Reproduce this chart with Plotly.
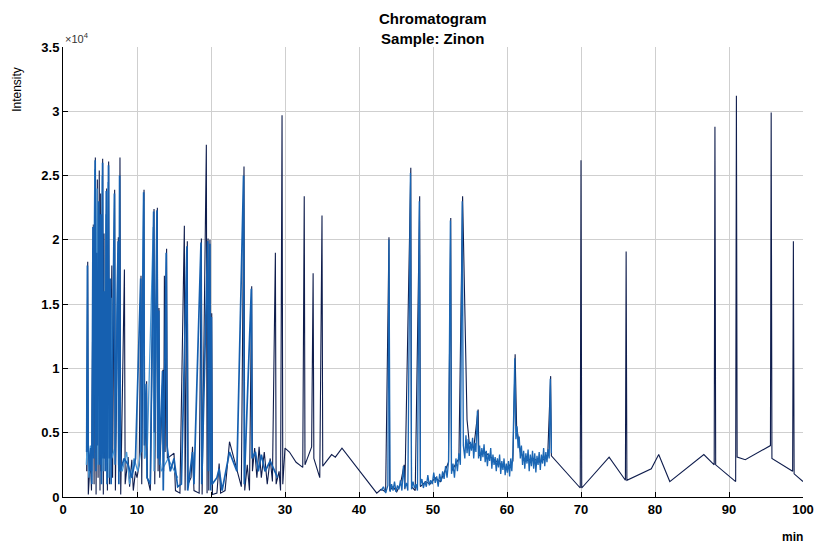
import plotly.graph_objects as go

# ---- data (intensity in units of 1e4) ----
navy_t = [3.2, 3.34, 3.42, 3.7, 3.85, 4.1, 4.2, 4.37, 4.47, 4.64, 4.74, 4.9, 5.0, 5.09, 5.18, 5.36, 5.45, 5.54, 5.64, 5.9,
          6.0, 6.17, 6.27, 6.6, 6.7, 6.98, 7.08, 7.48, 7.58, 7.7, 7.8, 8.3, 8.4, 8.8, 9.0, 9.3, 9.5, 9.8, 10.0, 10.3,
          10.54, 10.64, 10.95, 11.05, 11.3, 11.4, 11.8, 12.3, 12.4, 12.75, 12.85, 12.97, 13.07, 13.5, 13.6, 13.7, 13.8, 14.0, 14.1, 15.0,
          15.2, 15.8, 16.4, 16.5, 16.8, 16.9, 17.3, 17.5, 17.7, 18.4, 18.7, 18.8, 19.37, 19.47, 19.6, 19.7, 19.86, 19.95, 20.1, 20.2,
          20.8, 21.1, 21.3, 21.9, 22.5, 23.5, 24.1, 24.46, 24.56, 24.9, 25.2, 25.5, 25.6, 25.9, 26.2, 26.5, 26.8, 27.2, 27.6, 28.0,
          28.3, 28.7, 28.8, 29.2, 29.4, 29.6, 29.7, 30.0, 30.6, 31.5, 32.4, 32.6, 32.7, 33.6, 33.8, 33.9, 34.7, 35.0, 35.1, 36.3,
          36.8, 37.7, 42.4, 43.0, 43.6, 44.05, 44.15, 44.6, 45.1, 45.6, 46.1, 46.2, 47.0, 47.1, 47.6, 48.2, 48.3, 49.0, 49.6, 50.3,
          51.0, 51.6, 52.1, 52.4, 52.5, 53.0, 53.5, 54.0, 54.3, 54.6, 54.9, 55.5, 56.1, 56.2, 57.0, 58.0, 59.0, 60.0, 60.8, 61.1,
          61.3, 61.8, 62.5, 63.5, 64.5, 65.5, 65.9, 66.0, 69.9, 70.0, 70.1, 73.8, 76.0, 76.1, 76.2, 79.5, 80.5, 82.0, 86.6, 88.0,
          88.1, 88.2, 90.9, 91.0, 91.1, 92.2, 95.6, 95.7, 95.8, 97.8, 98.6, 98.7, 98.8, 100.0]
navy_y = [0.20, 1.83, 0.02, 0.30, 0.05, 2.12, 0.10, 2.64, 0.02, 2.47, 0.15, 2.54, 0.05, 2.36, 0.20, 2.63, 0.02, 2.05, 0.30, 2.40,
          0.05, 2.61, 0.10, 1.80, 0.15, 2.39, 0.05, 2.02, 0.20, 2.64, 0.02, 1.77, 0.10, 0.31, 0.08, 0.29, 0.05, 0.20, 0.15, 0.25,
          1.72, 0.10, 2.39, 0.30, 0.90, 0.15, 0.05, 2.24, 0.10, 2.25, 0.20, 1.47, 0.15, 0.99, 0.20, 1.72, 0.35, 1.93, 0.30, 0.34,
          0.05, 0.03, 2.11, 0.05, 1.99, 0.10, 0.15, 0.39, 0.05, 0.03, 2.01, 0.02, 2.74, 0.03, 2.01, 0.05, 2.00, 0.10, 1.43, 0.02,
          0.03, 0.26, 0.03, 0.05, 0.43, 0.22, 0.08, 2.57, 0.05, 0.25, 0.05, 1.64, 0.20, 0.38, 0.15, 0.39, 0.15, 0.35, 0.10, 0.30,
          0.12, 1.90, 0.10, 0.20, 0.05, 2.97, 0.10, 0.38, 0.35, 0.27, 0.23, 2.34, 0.25, 0.39, 1.74, 0.30, 0.15, 2.19, 0.24, 0.33,
          0.31, 0.38, 0.03, 0.06, 0.04, 2.02, 0.05, 0.08, 0.04, 0.10, 0.25, 0.06, 2.56, 0.08, 0.05, 2.34, 0.08, 0.12, 0.10, 0.15,
          0.12, 0.20, 0.27, 2.17, 0.20, 0.25, 0.30, 2.34, 1.40, 0.60, 0.42, 0.38, 0.68, 0.32, 0.35, 0.30, 0.26, 0.22, 0.28, 1.11,
          0.55, 0.35, 0.28, 0.30, 0.27, 0.32, 0.94, 0.32, 0.07, 2.62, 0.07, 0.31, 0.13, 1.91, 0.13, 0.22, 0.33, 0.12, 0.33, 0.25,
          2.88, 0.25, 0.12, 3.12, 0.31, 0.29, 0.40, 2.99, 0.30, 0.23, 0.20, 1.99, 0.18, 0.12]

blue_t = [3.2, 3.3, 3.4, 3.6, 3.75, 3.9, 4.05, 4.15, 4.35, 4.45, 4.55, 4.65, 4.85, 4.95, 5.1, 5.2, 5.35, 5.45, 5.6, 5.7,
          5.85, 5.95, 6.15, 6.25, 6.4, 6.5, 6.95, 7.05, 7.45, 7.55, 7.65, 7.75, 8.25, 8.8, 9.3, 9.8, 10.5, 10.6, 10.9, 11.0,
          11.25, 11.35, 11.8, 12.25, 12.35, 12.7, 12.8, 12.95, 13.05, 13.45, 13.55, 13.95, 14.05, 14.5, 15.0, 15.5, 16.0, 16.75, 16.85, 17.5,
          17.7, 18.65, 18.75, 19.55, 19.65, 19.85, 19.95, 20.05, 20.15, 20.8, 21.1, 21.5, 22.5, 23.5, 24.4, 24.5, 25.45, 25.55, 26.0, 26.4,
          26.8, 27.3, 28.0, 29.0]
blue_y = [0.35, 1.80, 0.40, 0.20, 0.38, 0.10, 2.10, 0.30, 2.62, 0.20, 1.90, 0.40, 2.30, 0.25, 2.20, 0.10, 2.60, 0.30, 1.60, 0.20,
          2.38, 0.10, 2.58, 0.30, 1.70, 0.10, 2.36, 0.25, 1.99, 0.10, 2.50, 0.20, 0.30, 0.25, 0.15, 0.30, 1.70, 0.35, 2.37, 0.40,
          0.88, 0.15, 0.10, 2.22, 0.50, 2.23, 0.30, 1.45, 0.25, 0.98, 0.05, 1.90, 0.40, 0.20, 0.30, 0.08, 0.10, 1.95, 0.05, 0.35,
          0.10, 1.98, 0.10, 1.99, 0.20, 1.97, 0.05, 1.40, 0.10, 0.15, 0.22, 0.05, 0.35, 0.20, 2.50, 0.10, 1.62, 0.30, 0.35, 0.20,
          0.33, 0.20, 0.28, 0.15]

light_t = [3.15, 3.3, 3.5, 3.7, 3.9, 4.3, 4.4, 4.6, 4.7, 5.0, 5.1, 5.3, 5.4, 5.8, 5.9, 6.1, 6.2, 6.5, 6.6, 7.0,
           7.4, 7.5, 8.0, 8.6, 9.0, 9.6, 10.1, 10.5, 10.9, 11.0, 11.4, 12.2, 12.3, 12.7, 12.8, 13.3, 14.2, 15.5]
light_y = [0.25, 0.45, 0.15, 0.40, 0.20, 2.55, 0.30, 2.40, 0.25, 1.95, 0.40, 2.50, 0.20, 2.20, 0.35, 2.45, 0.15, 1.55, 0.30, 0.38,
           1.90, 0.25, 0.20, 0.35, 0.10, 0.30, 0.20, 0.35, 2.30, 0.30, 0.40, 2.10, 0.20, 1.80, 0.45, 0.20, 0.30, 0.15]

noise_t = [43.0, 43.3, 43.6, 43.9, 44.05, 44.2, 44.4, 44.6, 44.8, 45.0, 45.2, 45.4, 45.6, 45.8, 46.0, 46.2, 46.4, 46.6, 46.95, 47.1,
           47.3, 47.5, 47.7, 47.9, 48.15, 48.3, 48.5, 48.7, 48.9, 49.1, 49.3, 49.5, 49.7, 49.9, 50.1, 50.3, 50.5, 50.7, 50.9, 51.1,
           51.3, 51.5, 51.7, 51.9, 52.1, 52.35, 52.5, 52.7, 52.9, 53.1, 53.3, 53.5, 53.7, 53.95, 54.1, 54.3, 54.45, 54.6, 54.75, 54.9,
           55.05, 55.2, 55.35, 55.5, 55.65, 55.8, 56.0, 56.15, 56.3, 56.45, 56.6, 56.75, 56.9, 57.05, 57.2, 57.35, 57.5, 57.65, 57.8, 57.95,
           58.1, 58.25, 58.4, 58.55, 58.7, 58.85, 59.0, 59.15, 59.3, 59.45, 59.6, 59.75, 59.9, 60.05, 60.2, 60.35, 60.5, 60.65, 60.8, 61.05,
           61.2, 61.35, 61.5, 61.65, 61.8, 61.95, 62.1, 62.25, 62.4, 62.55, 62.7, 62.85, 63.0, 63.15, 63.3, 63.45, 63.6, 63.75, 63.9, 64.05,
           64.2, 64.35, 64.5, 64.65, 64.8, 64.95, 65.1, 65.25, 65.4, 65.55, 65.7, 65.85, 66.0]
noise_y = [0.05, 0.08, 0.03, 0.09, 2.00, 0.04, 0.10, 0.05, 0.12, 0.04, 0.09, 0.06, 0.13, 0.05, 0.24, 0.07, 0.11, 0.05, 2.52, 0.06,
           0.12, 0.07, 0.10, 0.05, 2.30, 0.09, 0.14, 0.07, 0.12, 0.08, 0.17, 0.09, 0.13, 0.10, 0.19, 0.11, 0.16, 0.08, 0.18, 0.12,
           0.20, 0.14, 0.24, 0.15, 0.28, 2.15, 0.18, 0.26, 0.15, 0.30, 0.20, 0.34, 0.25, 2.30, 0.40, 0.30, 0.48, 0.34, 0.45, 0.32,
           0.43, 0.36, 0.46, 0.30, 0.42, 0.35, 0.67, 0.30, 0.40, 0.28, 0.38, 0.31, 0.41, 0.27, 0.36, 0.24, 0.34, 0.28, 0.38, 0.22,
           0.33, 0.25, 0.31, 0.20, 0.30, 0.23, 0.33, 0.18, 0.28, 0.21, 0.30, 0.17, 0.26, 0.19, 0.28, 0.16, 0.30, 0.20, 0.35, 1.08,
           0.45, 0.55, 0.38, 0.47, 0.30, 0.40, 0.25, 0.36, 0.22, 0.34, 0.26, 0.37, 0.20, 0.33, 0.24, 0.36, 0.22, 0.34, 0.19, 0.32,
           0.25, 0.35, 0.21, 0.33, 0.26, 0.38, 0.24, 0.35, 0.27, 0.37, 0.30, 0.92, 0.34]

x_ticks = [0, 10, 20, 30, 40, 50, 60, 70, 80, 90, 100]
y_ticks = [0, 0.5, 1, 1.5, 2, 2.5, 3, 3.5]
y_tick_text = ["0", "0.5", "1", "1.5", "2", "2.5", "3", "3.5"]

FONT = "Liberation Sans Narrow, Liberation Sans, Arial, sans-serif"

fig = go.Figure()
fig.add_trace(go.Scatter(x=navy_t, y=navy_y, mode="lines", line=dict(color="#0f1d4d", width=1.1), hoverinfo="skip"))
fig.add_trace(go.Scatter(x=light_t, y=light_y, mode="lines", line=dict(color="#4a98d6", width=1.3), hoverinfo="skip"))
fig.add_trace(go.Scatter(x=blue_t, y=blue_y, mode="lines", line=dict(color="#1660b0", width=1.7), hoverinfo="skip"))
fig.add_trace(go.Scatter(x=noise_t, y=noise_y, mode="lines", line=dict(color="#1a66b4", width=1.3), hoverinfo="skip"))

fig.update_layout(
    width=814, height=545,
    margin=dict(l=63, r=11, t=47, b=48, autoexpand=False),
    paper_bgcolor="white", plot_bgcolor="white",
    showlegend=False,
    font=dict(family=FONT, size=12, color="black"),
)
fig.update_xaxes(range=[0, 100], tickvals=x_ticks, ticks="inside", ticklen=5, tickcolor="black",
                 showgrid=True, gridcolor="#cfcfcf", gridwidth=1, showline=True, linecolor="black", linewidth=1,
                 zeroline=False, automargin=False, tickfont=dict(family=FONT, size=13, color="black", weight="bold"))
fig.update_yaxes(range=[0, 3.5], tickvals=y_ticks, ticktext=y_tick_text, ticks="inside", ticklen=5, tickcolor="black",
                 showgrid=True, gridcolor="#cfcfcf", gridwidth=1, showline=True, linecolor="black", linewidth=1,
                 zeroline=False, automargin=False, tickfont=dict(family=FONT, size=13, color="black", weight="bold"))

fig.add_annotation(text="<b>Chromatogram</b><br><b>Sample: Zinon</b>", xref="paper", yref="paper",
                   x=0.5, y=1.04, xanchor="center", yanchor="middle", showarrow=False,
                   font=dict(family=FONT, size=15, color="black"))
fig.add_annotation(text="Intensity", xref="paper", yref="paper", x=-0.062, y=0.905, textangle=-90,
                   showarrow=False, xanchor="center", yanchor="middle", font=dict(family=FONT, size=12, color="black"))
fig.add_annotation(text="×10<sup>4</sup>", xref="paper", yref="paper", x=0.0, y=1.0, xanchor="left", yanchor="bottom",
                   showarrow=False, font=dict(family=FONT, size=11, color="#333333"))
fig.add_annotation(text="<b>min</b>", xref="paper", yref="paper", x=0.986, y=-0.088, xanchor="center", yanchor="middle",
                   showarrow=False, font=dict(family=FONT, size=12, color="black"))

fig.write_html("out.html", config={"displayModeBar": False},
               post_script="document.body.style.margin='0';document.body.style.overflow='hidden';")
